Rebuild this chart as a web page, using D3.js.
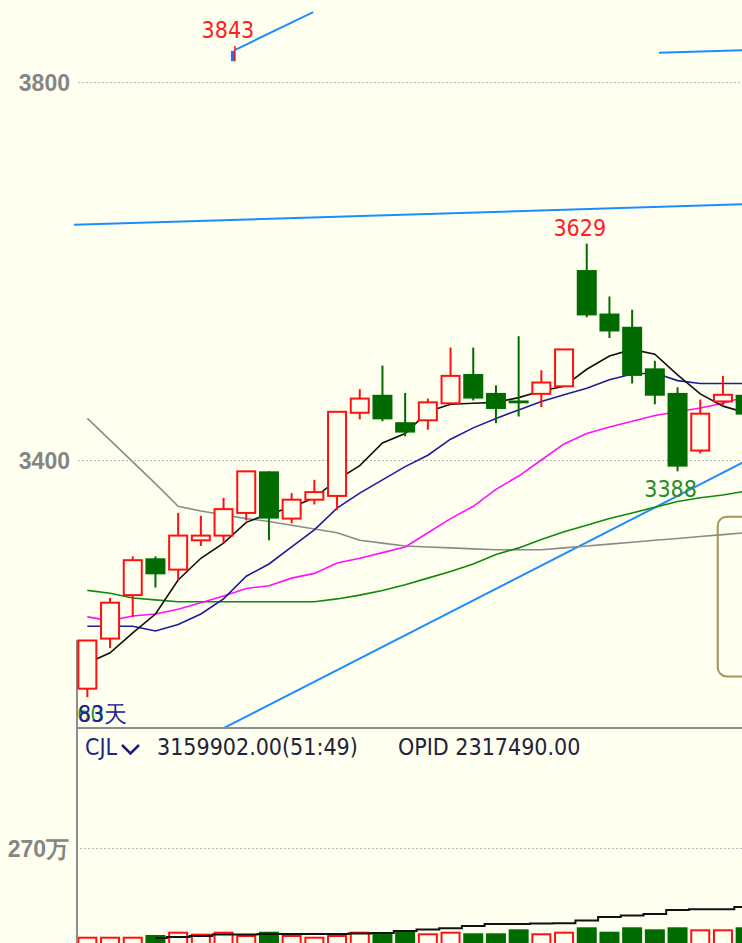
<!DOCTYPE html>
<html>
<head>
<meta charset="utf-8">
<script src="https://cdn.jsdelivr.net/npm/d3@7"></script>
<style>
  html, body { margin: 0; padding: 0; background: #fffff0; overflow: hidden; }
  svg { display: block; font-family: "DejaVu Sans Condensed", "DejaVu Sans", sans-serif; font-stretch: condensed; }
</style>
</head>
<body>
<div id="chart"></div>
<script>
// candles
let opens  = [3158, 3211, 3257, 3296, 3284, 3315, 3320, 3344, 3388, 3338, 3358, 3362, 3450, 3469, 3440, 3442, 3460, 3491, 3471, 3463, 3470, 3478, 3601, 3555, 3541, 3497, 3471, 3410, 3462, 3469];
let highs  = [3209, 3254, 3298, 3298, 3344, 3341, 3360, 3388, 3388, 3365, 3379, 3451, 3475, 3500, 3471, 3465, 3519, 3519, 3479, 3531, 3495, 3517, 3629, 3573, 3559, 3505, 3477, 3464, 3489, 3469];
let lows   = [3149, 3201, 3234, 3265, 3273, 3309, 3312, 3336, 3315, 3333, 3353, 3347, 3443, 3441, 3425, 3432, 3460, 3463, 3439, 3446, 3456, 3478, 3551, 3529, 3481, 3459, 3388, 3407, 3457, 3440];
let closes = [3209, 3249, 3294, 3279, 3320, 3320, 3348, 3388, 3338, 3358, 3366, 3451, 3465, 3443, 3429, 3461, 3489, 3465, 3454, 3460, 3482, 3517, 3553, 3536, 3489, 3468, 3393, 3449, 3469, 3448];

// moving averages
let ma5   = [3185, 3196, 3217, 3237, 3273, 3296, 3312, 3334, 3343, 3350, 3360, 3379, 3394, 3418, 3428, 3451, 3459, 3460, 3461, 3466, 3473, 3478, 3496, 3510, 3517, 3512, 3490, 3470, 3457, 3450];
let ma10  = [3224, 3224, 3224, 3219, 3226, 3237, 3253, 3277, 3290, 3308, 3326, 3349, 3365, 3379, 3393, 3405, 3422, 3434, 3444, 3453, 3462, 3469, 3476, 3485, 3491, 3492, 3484, 3481, 3481, 3481];
let ma20  = [3234, 3230, 3235, 3237, 3242, 3249, 3256, 3264, 3267, 3275, 3280, 3291, 3296, 3302, 3308, 3323, 3338, 3351, 3369, 3383, 3400, 3417, 3428, 3435, 3441, 3447, 3451, 3455, 3460, 3467];
let ma60  = [3262, 3259, 3254, 3252, 3250, 3250, 3250, 3250, 3250, 3250, 3250, 3253, 3257, 3262, 3268, 3275, 3282, 3290, 3300, 3307, 3316, 3324, 3331, 3338, 3344, 3350, 3356, 3360, 3363, 3367];
let maLong = [3444, 3421, 3398, 3375, 3351, 3346, 3342, 3338, 3335, 3331, 3327, 3323, 3315, 3312, 3309, 3308, 3307, 3306, 3305, 3305, 3305, 3307, 3309, 3311, 3313, 3315, 3317, 3319, 3321, 3323];

// volume panel
let volumes = [205000, 205000, 205000, 253000, 346000, 290000, 346000, 253000, 346000, 253000, 205000, 253000, 346000, 318000, 374000, 301000, 346000, 301000, 301000, 413000, 301000, 346000, 470000, 346000, 470000, 413000, 470000, 413000, 413000, 470000];
let volLine = [null, null, null, 169000, 197000, 225000, 267000, 267000, 281000, 281000, 281000, 281000, 295000, 309000, 366000, 408000, 441000, 506000, 563000, 563000, 577000, 583000, 661000, 759000, 802000, 844000, 956000, 976000, 976000, 1041000];

let priceTicks = [3400, 3800];
let volTicks = [2700000];
let volTickLabels = ["270万"];

// drawn objects: [index, price]
let trendLines = [
  [[-0.6, 3649], [29.5, 3671]],
  [[6.51, 3834], [9.95, 3874]],
  [[25.18, 3831], [29.5, 3834]],
  [[5.9, 3115], [29.5, 3405]]
];
let extremes = [
  { label: "3843", idx: 6.5, price: 3843, kind: "high" },
  { label: "3629", idx: 22, price: 3629, kind: "high" },
  { label: "3388", idx: 26, price: 3388, kind: "low" }
];
let boxArea = { idx0: 27.77, idx1: 31, top: 3340, bottom: 3171 };

let W = 742, H = 943;
let bg = "#fffff0";
let upColor = "#ff1010", downColor = "#006c00";

let svg = d3.select("#chart").append("svg")
  .attr("width", W)
  .attr("height", H)
  .style("background", bg);

let x = d3.scaleBand()
  .domain(d3.range(opens.length))
  .range([76, 757])
  .paddingInner(0.12)
  .paddingOuter(0.06);
let cx = i => x(0) + x.bandwidth() / 2 + i * x.step();

let y = d3.scaleLinear().domain([3400, 3800]).range([460, 82]);
let yv = d3.scaleLinear().domain([0, 2700000]).range([944, 848]);

let defs = svg.append("defs");
defs.append("clipPath").attr("id", "mainClip")
  .append("rect").attr("x", 74).attr("y", 0).attr("width", W - 74).attr("height", 727);
defs.append("clipPath").attr("id", "volClip")
  .append("rect").attr("x", 78).attr("y", 729).attr("width", W - 78).attr("height", H - 729);

// ---- axes / grid ----
let yAxis = d3.axisLeft(y).tickValues(priceTicks).tickFormat(d3.format("d")).tickSize(0).tickPadding(0);
let gy = svg.append("g").attr("transform", "translate(70,0)").call(yAxis);
gy.select(".domain").remove();
gy.selectAll("text")
  .attr("font-size", 23).attr("font-weight", "bold")
  .attr("fill", "#858585").attr("font-family", null).attr("dy", "0.36em");

svg.append("g").selectAll("line")
  .data(priceTicks)
  .join("line")
    .attr("x1", 78).attr("x2", W)
    .attr("y1", d => Math.round(y(d)) + 0.5).attr("y2", d => Math.round(y(d)) + 0.5)
    .attr("stroke", "#b8b8b8").attr("stroke-dasharray", "2,2");

let vAxis = d3.axisLeft(yv).tickValues(volTicks).tickFormat((d, i) => volTickLabels[i]).tickSize(0).tickPadding(0);
let gv = svg.append("g").attr("transform", "translate(69,0)").call(vAxis);
gv.select(".domain").remove();
gv.selectAll("text")
  .attr("font-size", 23).attr("font-weight", "bold")
  .attr("fill", "#858585").attr("font-family", null).attr("dy", "0.36em");

svg.append("g").selectAll("line")
  .data(volTicks)
  .join("line")
    .attr("x1", 80).attr("x2", W)
    .attr("y1", d => Math.round(yv(d)) + 0.5).attr("y2", d => Math.round(yv(d)) + 0.5)
    .attr("stroke", "#b8b8b8").attr("stroke-dasharray", "2,2");

// panel borders
svg.append("line").attr("x1", 76).attr("x2", W).attr("y1", 728).attr("y2", 728)
  .attr("stroke", "#8e8e8e").attr("stroke-width", 2);
svg.append("line").attr("x1", 77).attr("x2", 77).attr("y1", 640).attr("y2", H)
  .attr("stroke", "#8e8e8e").attr("stroke-width", 2);

// ---- main panel ----
let main = svg.append("g").attr("clip-path", "url(#mainClip)");

let maLine = d3.line()
  .defined(d => d != null)
  .x((d, i) => cx(i))
  .y(d => y(d));

let mas = [
  { data: maLong, color: "#8a8a8a" },
  { data: ma60, color: "#0c8a0c" },
  { data: ma20, color: "#ff10ff" },
  { data: ma10, color: "#1c1c9c" },
  { data: ma5, color: "#101010" }
];

// trend lines (drawn objects)
main.append("g").selectAll("line")
  .data(trendLines)
  .join("line")
    .attr("x1", d => cx(d[0][0])).attr("y1", d => y(d[0][1]))
    .attr("x2", d => cx(d[1][0])).attr("y2", d => y(d[1][1]))
    .attr("stroke", "#1e8cff").attr("stroke-width", 2);

// box on the right
main.append("rect")
  .attr("x", cx(boxArea.idx0)).attr("y", y(boxArea.top))
  .attr("width", cx(boxArea.idx1) - cx(boxArea.idx0))
  .attr("height", y(boxArea.bottom) - y(boxArea.top))
  .attr("rx", 9)
  .attr("fill", "none").attr("stroke", "#a8925e").attr("stroke-width", 2);

main.append("g").selectAll("path")
  .data(mas)
  .join("path")
    .attr("d", d => maLine(d.data))
    .attr("fill", "none")
    .attr("stroke", d => d.color)
    .attr("stroke-width", 1.6);

let candles = d3.range(opens.length).map(i => ({
  i, o: opens[i], h: highs[i], l: lows[i], c: closes[i], up: closes[i] >= opens[i]
}));

let cg = main.append("g").selectAll("g")
  .data(candles)
  .join("g");

cg.append("line")
  .attr("x1", d => cx(d.i)).attr("x2", d => cx(d.i))
  .attr("y1", d => y(d.h)).attr("y2", d => y(d.l))
  .attr("stroke", d => d.up ? upColor : downColor)
  .attr("stroke-width", 2);

cg.append("rect")
  .attr("x", d => d.up ? cx(d.i) - 9 : cx(d.i) - 10)
  .attr("width", d => d.up ? 18 : 20)
  .attr("y", d => y(Math.max(d.o, d.c)))
  .attr("height", d => Math.max(2, Math.abs(y(d.o) - y(d.c))))
  .attr("fill", d => d.up ? bg : downColor)
  .attr("stroke", d => d.up ? upColor : "none")
  .attr("stroke-width", 2);

// 3843 marker
let hi = extremes[0];
main.append("rect")
  .attr("x", cx(hi.idx) - 4).attr("y", y(3833))
  .attr("width", 4).attr("height", y(3822) - y(3833))
  .attr("fill", "#1e70ff");
main.append("line")
  .attr("x1", cx(hi.idx)).attr("x2", cx(hi.idx))
  .attr("y1", y(3838)).attr("y2", y(3822))
  .attr("stroke", upColor).attr("stroke-width", 1.5);

// extreme labels
svg.append("g").selectAll("text")
  .data(extremes)
  .join("text")
    .attr("x", d => cx(d.idx) - 7)
    .attr("y", d => d.kind === "high" ? y(d.price) - (d.label === "3843" ? 3 : 8) : y(d.price) + 26)
    .attr("text-anchor", "middle")
    .attr("font-size", 23)
    .attr("fill", d => d.kind === "high" ? "#ff2020" : "#2b8a2b")
    .text(d => d.label);

// bottom-left counters
svg.append("text").attr("x", 77).attr("y", 722).attr("font-size", 23)
  .attr("fill", "#2a9a2a").text("60");
svg.append("text").attr("x", 78).attr("y", 722).attr("font-size", 23)
  .attr("fill", "#20209a").text("83天");

// ---- volume panel ----
let vol = svg.append("g").attr("clip-path", "url(#volClip)");

vol.selectAll("rect")
  .data(candles)
  .join("rect")
    .attr("x", d => d.up ? cx(d.i) - 9 : cx(d.i) - 10)
    .attr("width", d => d.up ? 18 : 20)
    .attr("y", d => yv(volumes[d.i]) + (d.up ? 1 : 0))
    .attr("height", d => yv(0) - yv(volumes[d.i]) + 4)
    .attr("fill", d => d.up ? bg : downColor)
    .attr("stroke", d => d.up ? upColor : "none")
    .attr("stroke-width", 2);

let vLine = d3.line()
  .defined(d => d != null)
  .x((d, i) => cx(i))
  .y(d => yv(d))
  .curve(d3.curveStep);

vol.append("path")
  .attr("d", vLine(volLine))
  .attr("fill", "none").attr("stroke", "#111").attr("stroke-width", 2);

// panel title
let title = svg.append("g").attr("font-size", 23);
title.append("text").attr("x", 85).attr("y", 755).attr("fill", "#24248a").text("CJL");
title.append("path").attr("d", "M122,745 L130.5,753.5 L139,745")
  .attr("fill", "none").attr("stroke", "#1a1a80").attr("stroke-width", 2.5);
title.append("text").attr("x", 157).attr("y", 755).attr("fill", "#22223a").text("3159902.00(51:49)");
title.append("text").attr("x", 398).attr("y", 755).attr("fill", "#22223a").text("OPID 2317490.00");
</script>
</body>
</html>
